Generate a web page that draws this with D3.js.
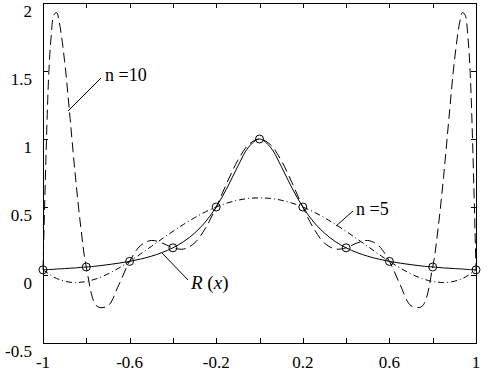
<!DOCTYPE html>
<html>
<head>
<meta charset="utf-8">
<script src="https://cdn.jsdelivr.net/npm/d3@7"></script>
<style>
  body { margin: 0; background: #fff; }
  .curve { fill: none; stroke: #000; stroke-width: 1; }
</style>
</head>
<body>
<svg id="chart" width="492" height="373"></svg>
<script>
// sample positions (right half, mirrored for the left)
var xHalf = [0, 0.05, 0.1, 0.15, 0.2, 0.25, 0.3, 0.35, 0.4, 0.45, 0.5, 0.55, 0.6,
  0.65, 0.7, 0.75, 0.8, 0.825, 0.85, 0.875, 0.9, 0.925, 0.9375, 0.95, 0.9625, 0.975, 1];

// R(x)
var rHalf = [1, 0.941, 0.8, 0.64, 0.5, 0.39, 0.308, 0.246, 0.2, 0.165, 0.138, 0.117, 0.1,
  0.087, 0.076, 0.066, 0.059, 0.056, 0.052, 0.05, 0.047, 0.045, 0.044, 0.042, 0.041, 0.04, 0.038];

// n = 5 curve
var n5Half = [0.567, 0.563, 0.55, 0.529, 0.5, 0.464, 0.421, 0.373, 0.321, 0.266, 0.21, 0.154, 0.1,
  0.051, 0.008, -0.026, -0.048, -0.053, -0.056, -0.053, -0.046, -0.033, -0.025, -0.016, -0.004, 0.01, 0.038];

// n = 10 curve
var n10Half = [1, 0.959, 0.843, 0.679, 0.5, 0.343, 0.235, 0.191, 0.2, 0.235, 0.254, 0.216, 0.1,
  -0.073, -0.226, -0.231, 0.059, 0.345, 0.719, 1.152, 1.57, 1.86, 1.93, 1.91, 1.75, 1.42, 0.038];

// interpolation nodes
var nodeX = [-1, -0.8, -0.6, -0.4, -0.2, 0, 0.2, 0.4, 0.6, 0.8, 1];
var nodeY = [0.038, 0.059, 0.1, 0.2, 0.5, 1, 0.5, 0.2, 0.1, 0.059, 0.038];

var xTicks = [-1, -0.8, -0.6, -0.4, -0.2, 0, 0.2, 0.4, 0.6, 0.8, 1];
var xLabels = [-1, -0.6, -0.2, 0.2, 0.6, 1];
var yTicks = [-0.5, 0, 0.5, 1, 1.5, 2];

function mirror(xs, ys) {
  var pts = [];
  for (var i = xs.length - 1; i > 0; i--) pts.push([-xs[i], ys[i]]);
  for (var j = 0; j < xs.length; j++) pts.push([xs[j], ys[j]]);
  return pts;
}

var box = {left: 43, right: 476, top: 3, bottom: 343};
var serif = "'Liberation Serif', 'DejaVu Serif', 'Times New Roman', Times, serif";

var svg = d3.select("#chart").attr("font-family", serif);

var x = d3.scaleLinear().domain([-1, 1]).range([box.left, box.right]);
var y = d3.scaleLinear().domain([-0.5, 2]).range([box.bottom, box.top]);

// frame
svg.append("rect")
  .attr("x", box.left + 0.5).attr("y", box.top + 0.5)
  .attr("width", box.right - box.left).attr("height", box.bottom - box.top)
  .attr("fill", "none").attr("stroke", "#000");

// tick marks on all four sides, pointing inwards
var tickLen = 5;
function px(v) { return Math.round(v) + 0.5; }

svg.append("g").selectAll("line").data(xTicks).enter().append("line")
  .attr("x1", function(d) { return px(x(d)); })
  .attr("x2", function(d) { return px(x(d)); })
  .attr("y1", box.bottom).attr("y2", box.bottom - tickLen).attr("stroke", "#000");
svg.append("g").selectAll("line").data(xTicks).enter().append("line")
  .attr("x1", function(d) { return px(x(d)); })
  .attr("x2", function(d) { return px(x(d)); })
  .attr("y1", box.top).attr("y2", box.top + tickLen).attr("stroke", "#000");
svg.append("g").selectAll("line").data(yTicks).enter().append("line")
  .attr("y1", function(d) { return px(y(d)); })
  .attr("y2", function(d) { return px(y(d)); })
  .attr("x1", box.left).attr("x2", box.left + tickLen).attr("stroke", "#000");
svg.append("g").selectAll("line").data(yTicks).enter().append("line")
  .attr("y1", function(d) { return px(y(d)); })
  .attr("y2", function(d) { return px(y(d)); })
  .attr("x1", box.right).attr("x2", box.right - tickLen).attr("stroke", "#000");

// tick labels
svg.append("g").selectAll("text").data(xLabels).enter().append("text")
  .attr("x", function(d) { return x(d); })
  .attr("y", 368)
  .attr("text-anchor", "middle")
  .style("font-family", serif)
  .style("font-size", "17px")
  .text(function(d) { return d; });

svg.append("g").selectAll("text").data(yTicks).enter().append("text")
  .attr("x", 32)
  .attr("y", function(d) { return y(d) + 14; })
  .attr("text-anchor", "end")
  .style("font-family", serif)
  .style("font-size", "17px")
  .text(function(d) { return d; });

var line = d3.line()
  .x(function(d) { return x(d[0]); })
  .y(function(d) { return y(d[1]); })
  .curve(d3.curveCatmullRom);

var plot = svg.append("g");

plot.append("path")
  .datum(mirror(xHalf, n5Half))
  .attr("class", "curve")
  .attr("d", line)
  .style("stroke-dasharray", "6,3,1,3");

plot.append("path")
  .datum(mirror(xHalf, n10Half))
  .attr("class", "curve")
  .attr("d", line)
  .style("stroke-dasharray", "10,5");

plot.append("path")
  .datum(mirror(xHalf, rHalf))
  .attr("class", "curve")
  .attr("d", line);

// nodes
plot.selectAll("circle").data(nodeX).enter().append("circle")
  .attr("cx", function(d) { return x(d); })
  .attr("cy", function(d, i) { return y(nodeY[i]); })
  .attr("r", 4)
  .attr("fill", "none")
  .attr("stroke", "#000");

// labels with leaders
svg.append("line").attr("x1", 101).attr("y1", 78).attr("x2", 68).attr("y2", 111).attr("stroke", "#000");
svg.append("text").attr("x", 105).attr("y", 81)
  .style("font-family", serif).style("font-size", "18px").text("n =10");

svg.append("line").attr("x1", 353).attr("y1", 211).attr("x2", 336).attr("y2", 226).attr("stroke", "#000");
svg.append("text").attr("x", 356).attr("y", 215)
  .style("font-family", serif).style("font-size", "18px").text("n =5");

svg.append("line").attr("x1", 162).attr("y1", 253).attr("x2", 188).attr("y2", 280).attr("stroke", "#000");
var rl = svg.append("text").attr("x", 191).attr("y", 289)
  .style("font-family", serif).style("font-size", "19px");
rl.append("tspan").style("font-style", "italic").text("R");
rl.append("tspan").text(" (");
rl.append("tspan").style("font-style", "italic").text("x");
rl.append("tspan").text(")");
</script>
</body>
</html>
